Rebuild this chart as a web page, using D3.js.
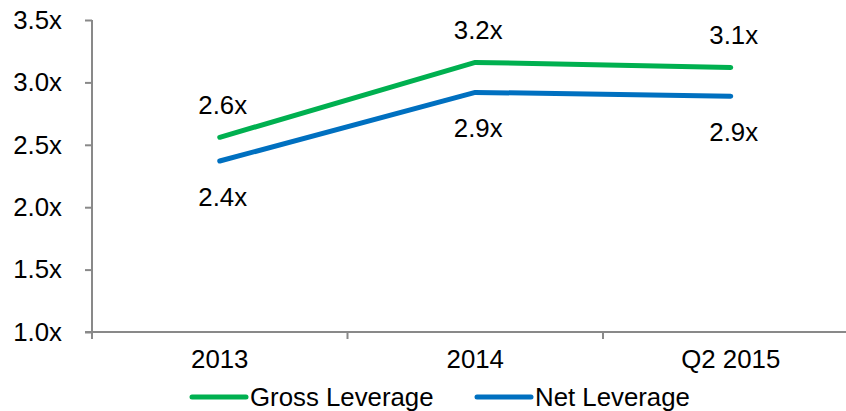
<!DOCTYPE html>
<html><head><meta charset="utf-8">
<script src="https://cdn.jsdelivr.net/npm/d3@7"></script>
<style>body{margin:0;background:#fff}svg{display:block}text{font-family:"Liberation Sans",Arial,sans-serif}</style>
</head><body>
<svg id="c" width="846" height="411"></svg>
<script>
const categories = ["2013", "2014", "Q2 2015"];
const grossLeverage = [2.56, 3.16, 3.12];
const netLeverage = [2.37, 2.92, 2.89];
const grossLabels = ["2.6x", "3.2x", "3.1x"];
const netLabels = ["2.4x", "2.9x", "2.9x"];
const yTicks = [1.0, 1.5, 2.0, 2.5, 3.0, 3.5];
const seriesNames = ["Gross Leverage", "Net Leverage"];
const seriesColors = ["#00B050", "#0070C0"];

const svg = d3.select("#c");
const fs = 25.8;
const x = d3.scaleBand().domain(categories).range([92, 858.5]);
const y = d3.scaleLinear().domain([1, 3.5]).range([332, 20]);

// y axis
const yAxis = svg.append("g").attr("transform", "translate(92,0)")
  .call(d3.axisLeft(y).tickValues(yTicks).tickSize(7).tickPadding(23).tickFormat(d => d3.format(".1f")(d) + "x"));
yAxis.select(".domain").attr("stroke", "#898989").attr("stroke-width", 2).attr("d", "M0,20V332");
yAxis.selectAll(".tick line").attr("stroke", "#898989").attr("stroke-width", 2);
yAxis.selectAll(".tick text").attr("font-size", fs).attr("fill", "#000").attr("font-family", '"Liberation Sans",Arial,sans-serif');

// x axis
const xAxis = svg.append("g").attr("transform", "translate(0,332)")
  .call(d3.axisBottom(x).tickSize(0).tickPadding(18));
xAxis.select(".domain").attr("stroke", "#898989").attr("stroke-width", 2).attr("d", "M85,0H858");
xAxis.selectAll(".tick text").attr("font-size", fs).attr("fill", "#000").attr("font-family", '"Liberation Sans",Arial,sans-serif');
// category boundary ticks
const bounds = categories.map(c => x(c)).concat([x(categories[2]) + x.bandwidth()]);
svg.append("g").selectAll("line").data(bounds).join("line")
  .attr("x1", d => d).attr("x2", d => d).attr("y1", 332).attr("y2", 339)
  .attr("stroke", "#898989").attr("stroke-width", 2);

const cx = c => x(c) + x.bandwidth() / 2;
const line = d3.line().x((d, i) => cx(categories[i])).y(d => y(d));
[grossLeverage, netLeverage].forEach((s, k) => {
  svg.append("path").datum(s).attr("d", line).attr("fill", "none")
    .attr("stroke", seriesColors[k]).attr("stroke-width", 5).attr("stroke-linecap", "round").attr("stroke-linejoin", "round");
});

// data labels
svg.append("g").selectAll("text").data(grossLeverage).join("text")
  .attr("x", (d, i) => cx(categories[i]) + 3).attr("y", d => y(d) - 32)
  .attr("dy", "0.35em").attr("text-anchor", "middle").attr("font-size", fs).text((d, i) => grossLabels[i]);
svg.append("g").selectAll("text").data(netLeverage).join("text")
  .attr("x", (d, i) => cx(categories[i]) + 3).attr("y", d => y(d) + 36)
  .attr("dy", "0.35em").attr("text-anchor", "middle").attr("font-size", fs).text((d, i) => netLabels[i]);

// legend
const legX = [192, 477];
seriesNames.forEach((n, k) => {
  svg.append("line").attr("x1", legX[k]).attr("x2", legX[k] + 54).attr("y1", 397).attr("y2", 397)
    .attr("stroke", seriesColors[k]).attr("stroke-width", 5).attr("stroke-linecap", "round");
  svg.append("text").attr("x", legX[k] + 58).attr("y", 397).attr("dy", "0.35em").attr("font-size", fs).text(n);
});
</script>
</body></html>
